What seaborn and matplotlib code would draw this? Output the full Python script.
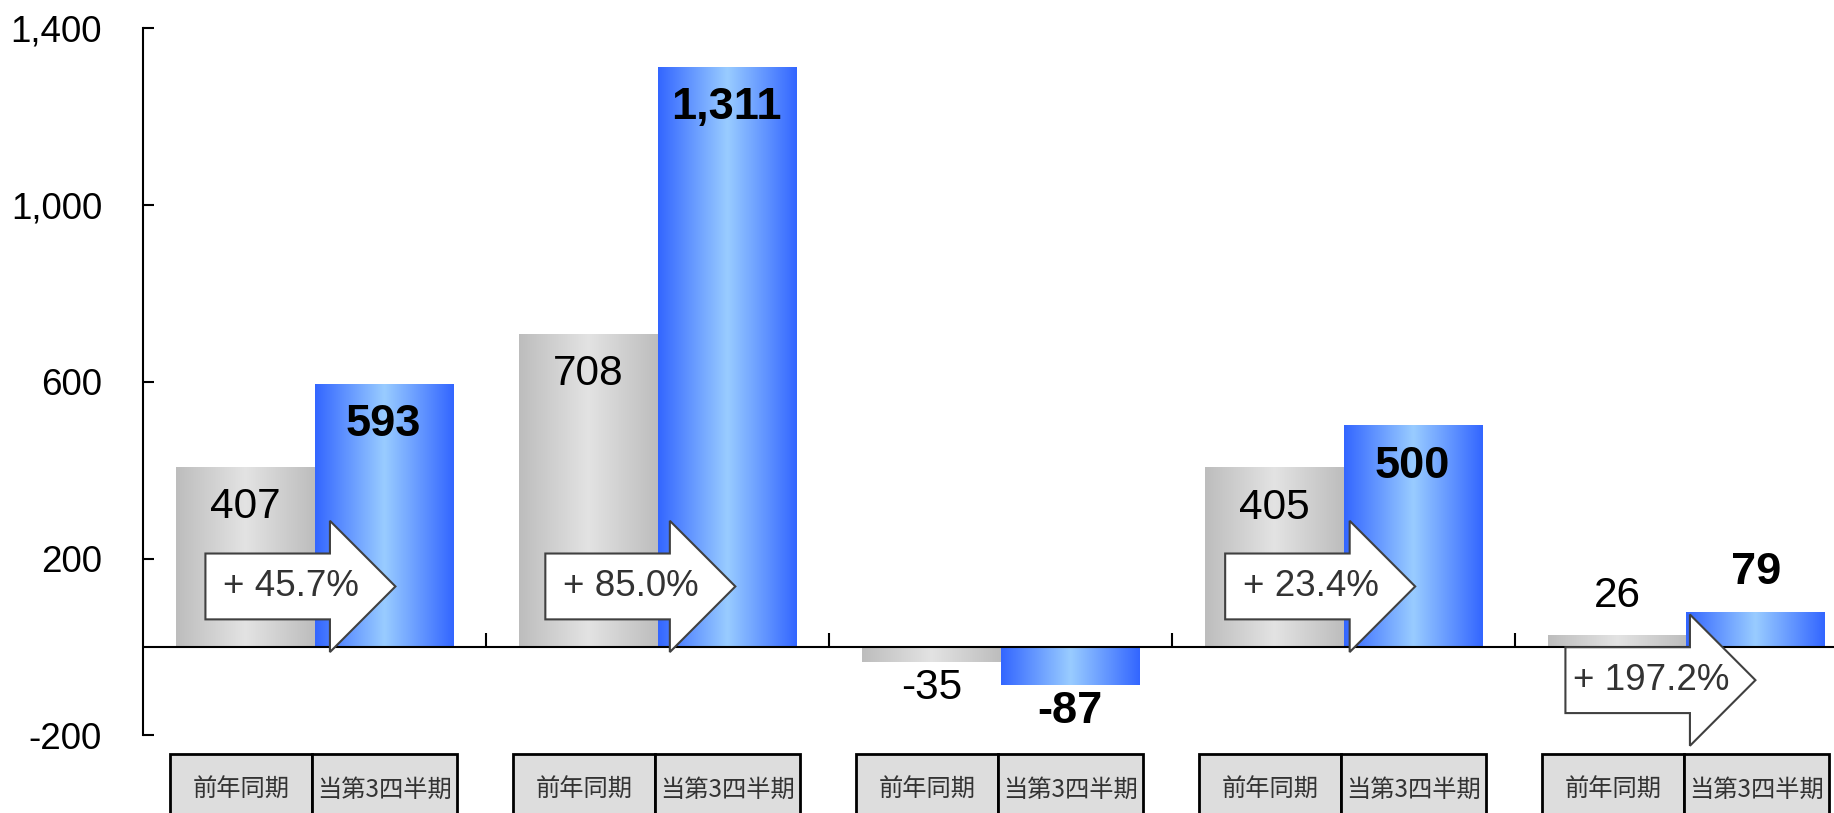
import numpy as np
import pandas as pd
import matplotlib
matplotlib.use('Agg')
import matplotlib.pyplot as plt
import seaborn as sns
from matplotlib.colors import LinearSegmentedColormap
from matplotlib.patches import Polygon, Rectangle

# Data
groups = ['1', '2', '3', '4', '5']
period_labels = ['前年同期', '当第3四半期']
prev_values = [407, 708, -35, 405, 26]
curr_values = [593, 1311, -87, 500, 79]
change_labels = ['+ 45.7%', '+ 85.0%', None, '+ 23.4%', '+ 197.2%']
ytick_values = [-200, 200, 600, 1000, 1400]
ytick_labels = ['-200', '200', '600', '1,000', '1,400']

# Layout of the block arrows (left edge offset from group centre, vertical centre)
arrow_left = [-0.318, -0.327, None, -0.345, -0.353]
arrow_y = [137, 137, None, 137, -75]

df = pd.DataFrame({
    'group': groups * 2,
    'period': [period_labels[0]] * len(groups) + [period_labels[1]] * len(groups),
    'value': prev_values + curr_values,
})

sns.set_style('white')
plt.rcParams['font.family'] = ['Liberation Sans', 'Noto Sans CJK JP', 'DejaVu Sans']

W, H = 1834, 813
fig = plt.figure(figsize=(W / 100, H / 100), dpi=100)
ax = fig.add_axes([143 / W, 1 - 735.4 / H, 1715 / W, (735.4 - 28.2) / H])

sns.barplot(data=df, x='group', y='value', hue='period', order=groups,
            hue_order=period_labels, width=0.807, gap=0, errorbar=None,
            palette=['#d0d0d0', '#6699ff'], legend=False, ax=ax)

gray_cmap = LinearSegmentedColormap.from_list('g', [(0, '#bdbdbd'), (0.5, '#e3e3e3'), (1, '#bdbdbd')])
blue_cmap = LinearSegmentedColormap.from_list('b', [(0, '#3366ff'), (0.5, '#99ccff'), (1, '#3366ff')])
grad = np.linspace(0, 1, 256).reshape(1, -1)

for p in ax.patches:
    x0 = p.get_x()
    w = p.get_width()
    v = p.get_height()
    cx = x0 + w / 2
    is_prev = cx < round(cx)
    cmap = gray_cmap if is_prev else blue_cmap
    ax.imshow(grad, cmap=cmap, extent=[x0, x0 + w, min(0, v), max(0, v)],
              aspect='auto', interpolation='bicubic', zorder=1)
    p.set_visible(False)

    # value labels
    val = int(round(v))
    if val >= 200:
        off = -40
    elif val > 0:
        off = 40
    else:
        off = -26
    ax.annotate(f'{val:,}', xy=(cx, v), xytext=(0, off), textcoords='offset pixels',
                ha='center', va='center', fontsize=30.5 if is_prev else 32.5,
                fontweight='normal' if is_prev else 'bold', color='black', zorder=6)

# zero line and group separators
ax.axhline(0, color='black', lw=1.5, zorder=3)
ax.vlines([0.5, 1.5, 2.5, 3.5], 0, 32, color='black', lw=1.5, zorder=3)

# growth arrows
bh, hh = 74.5, 148.5
for i, lab in enumerate(change_labels):
    if lab is None:
        continue
    bl = i + arrow_left[i]
    hb = bl + 0.363
    tip = bl + 0.554
    yc = arrow_y[i]
    pts = [(bl, yc + bh), (hb, yc + bh), (hb, yc + hh), (tip, yc),
           (hb, yc - hh), (hb, yc - bh), (bl, yc - bh)]
    ax.add_patch(Polygon(pts, closed=True, facecolor='white', edgecolor='#404040',
                         lw=1.5, zorder=4, clip_on=False))
    ax.text(bl + 0.45 * (tip - bl), yc, lab, ha='center', va='center',
            fontsize=26.5, color='#333333', zorder=5)

# period label boxes under each group
for i in range(len(groups)):
    cells = [(i - 0.42, i - 0.008), (i - 0.008, i + 0.415)]
    for (a, b), lab in zip(cells, period_labels):
        ax.add_patch(Rectangle((a, -420), b - a, 178, facecolor='#dddddd',
                               edgecolor='black', lw=2, clip_on=False, zorder=2))
        ax.text((a + b) / 2, -323.5, lab, ha='center', va='center', fontsize=17.5,
                color='#333333', family=['Noto Sans CJK JP', 'DejaVu Sans'])

ax.set_xlim(-0.5, 4.5)
ax.set_ylim(-200, 1400)
ax.set_xticks([])
ax.set_yticks(ytick_values)
ax.set_yticklabels(ytick_labels)
ax.set_xlabel('')
ax.set_ylabel('')
for s in ['top', 'right', 'bottom']:
    ax.spines[s].set_visible(False)
ax.spines['left'].set_color('black')
ax.spines['left'].set_linewidth(1.5)
ax.tick_params(axis='y', direction='in', length=8, width=1.5, pad=29.5,
               labelsize=26.5, colors='black', left=True)

fig.savefig('out.png', dpi=100)
